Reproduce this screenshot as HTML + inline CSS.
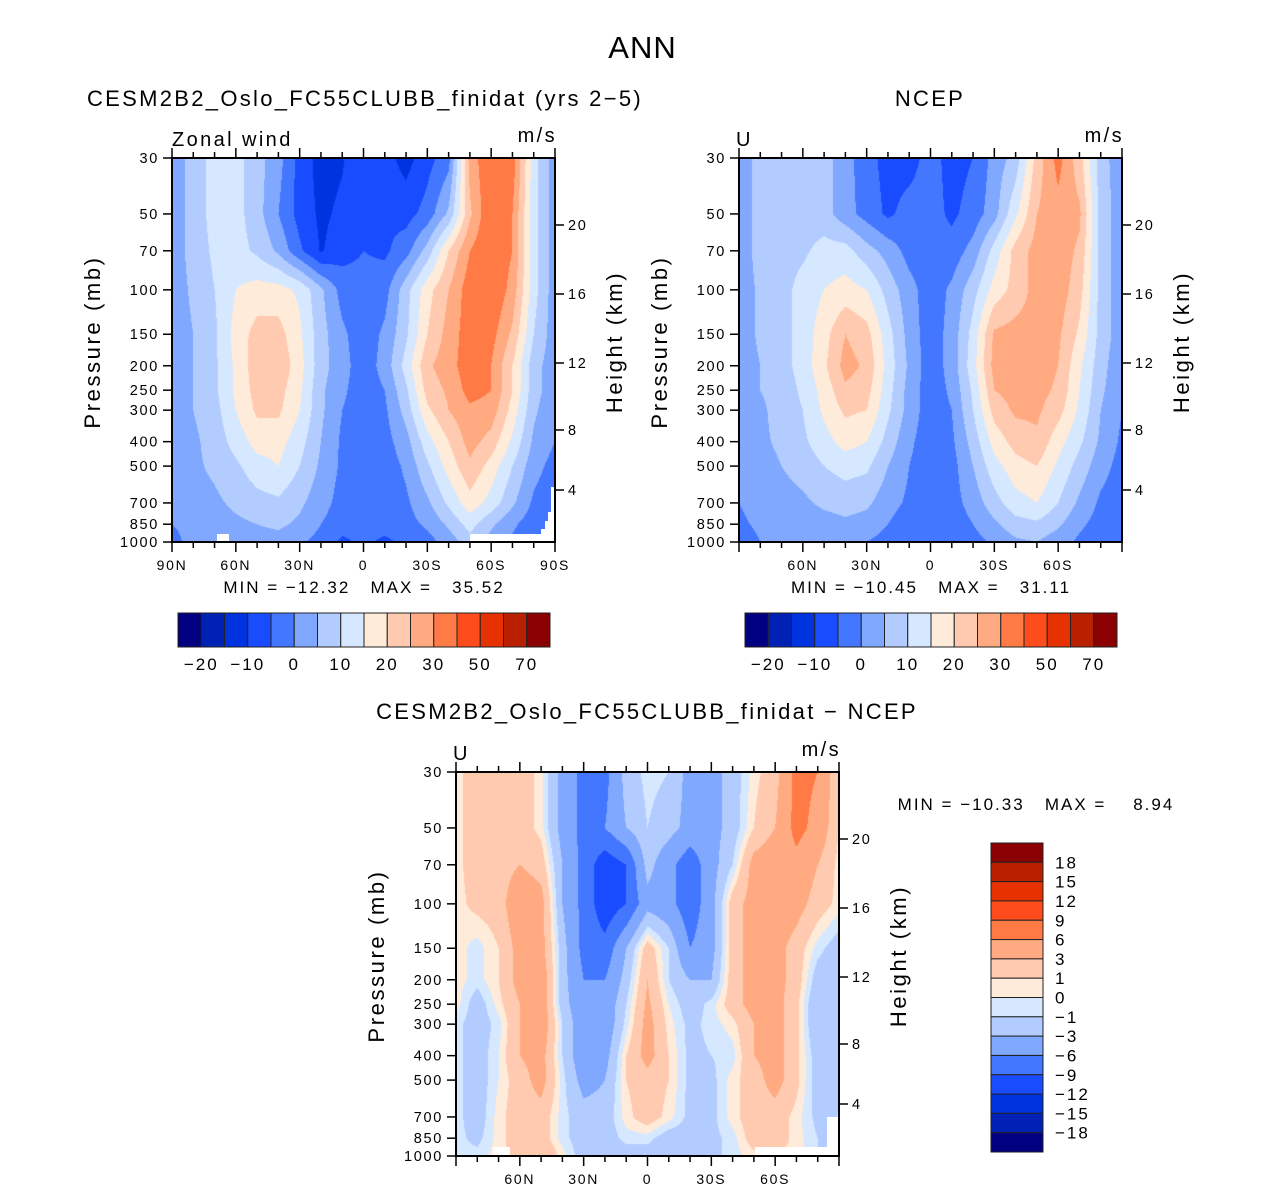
<!DOCTYPE html>
<html><head><meta charset="utf-8">
<style>
body{margin:0;background:#fff;width:1285px;height:1193px;overflow:hidden;position:relative;font-family:"Liberation Sans",sans-serif;}
canvas{position:absolute;}
.t{position:absolute;white-space:pre;color:#000;}
.miss{position:absolute;background:#fff;}
</style></head><body>
<div class="t" style="left:0;width:1285px;text-align:center;top:30px;font-size:31px;letter-spacing:1px;">ANN</div>
<div class="t" style="left:40px;width:650px;text-align:center;top:86px;font-size:22px;letter-spacing:2.3px;">CESM2B2_Oslo_FC55CLUBB_finidat (yrs 2−5)</div>
<div class="t" style="left:830px;width:200px;text-align:center;top:86px;font-size:22px;letter-spacing:2.3px;">NCEP</div>
<div class="t" style="left:297px;width:700px;text-align:center;top:699px;font-size:22px;letter-spacing:2.3px;">CESM2B2_Oslo_FC55CLUBB_finidat − NCEP</div>

<canvas id="c1" width="383" height="384" style="left:172px;top:158px"></canvas>
<canvas id="c2" width="383" height="384" style="left:739px;top:158px"></canvas>
<canvas id="c3" width="383" height="384" style="left:456px;top:772px"></canvas>

<div class="miss" style="left:217px;top:534px;width:12px;height:8px"></div>
<div class="miss" style="left:470px;top:534px;width:85px;height:8px"></div>
<div class="miss" style="left:551px;top:487px;width:4px;height:55px"></div>
<div class="miss" style="left:548px;top:512px;width:4px;height:30px"></div>
<div class="miss" style="left:545px;top:521px;width:4px;height:21px"></div>
<div class="miss" style="left:541px;top:529px;width:5px;height:13px"></div>
<div class="miss" style="left:493px;top:1147px;width:17px;height:9px"></div>
<div class="miss" style="left:755px;top:1147px;width:84px;height:9px"></div>
<div class="miss" style="left:827px;top:1117px;width:12px;height:39px"></div>

<svg id="ov" width="1285" height="1193" style="position:absolute;left:0;top:0"></svg>

<script>
const colors=["#000080","#0022b4","#0033e0","#1a4cff","#4477ff","#80a8ff","#b3ccff","#d6e8ff","#ffebd9","#ffcab0","#ffaa80","#ff7a44","#ff4c1c","#e63200","#b82000","#8b0000"];
const levelsU=[-20,-15,-10,-5,0,5,10,15,20,25,30,40,50,60,70];
const levelsDiff=[-18,-15,-12,-9,-6,-3,-1,0,1,3,6,9,12,15,18];
const cbLabelsU=["−20","−10","0","10","20","30","50","70"];
const cbLabelsDiff=["18","15","12","9","6","3","1","0","−1","−3","−6","−9","−12","−15","−18"];
const lats=[90,80,70,60,50,40,30,20,10,0,-10,-20,-30,-40,-50,-60,-70,-80,-90];
const plevs=[30,50,70,100,150,200,250,300,400,500,700,850,1000];
const pTickLabels=["30","50","70","100","150","200","250","300","400","500","700","850","1000"];
const heightTicks=[4,8,12,16,20];
const latTickLabelsFull=["90N","60N","30N","0","30S","60S","90S"];
const latTickLabelsInner=["","60N","30N","0","30S","60S",""];
const modelU=[
[2,7,12,12,7,2,-7,-12,-10.5,-6,-8,-12,-7,-2,27,35,33,12,2],
[2,7,12,12,7,0,-7,-11,-9,-6,-6,-7,-3,6,24,35,30,12,2],
[2,7,11,12,9,4,-4,-10.5,-7,-5,-6,-2,7,20,30,35,30,12,2],
[2,6,10,15,17,17,14,6,-2,-3,-2,8,18,25,33,35,28,12,2],
[2,5,9,17,22,22,16,7,1,-3,1,9,20,27,33,32,24,10,2],
[2,5,9,16,23,24,17,7,2,-3,2,12,24,28,33,30,20,7,2],
[2,5,9,16,22,22,16,6,1,-3,0,9,22,26,32,30,20,7,2],
[2,5,8,15,21,21,15,6,0,-3,-1,7,19,25,29,28,18,6,1],
[2,4,7,12,17,17,12,5,-1,-3,-2,3,13,20,27,23,14,4,0],
[1,4,6,9,13,15,10,4,-1,-3,-3,1,9,17,24,18,10,2,-2],
[1,3,4,6,8,9,6,2,-2,-3,-3,-1,4,11,18,13,6,-1,-4],
[0,2,3,4,5,6,4,0,-3,-4,-3,-2,1,6,12,6,1,-3,-6],
[-2,2,2,3,3,3,1,-2,-6,-4,-6,-4,-2,2,8,3,-1,-4,-8]];
const ncepU=[
[2,7,7,7,7,2,-3,-7,-7,-3,-7,-5,2,7,22,32,22,7,2],
[2,7,7,7,7,2,-2,-6,-3,-3,-6,-3,3,14,25,28,26,8,2],
[2,7,8,9,12,12,7,3,-2,-3,-3,2,12,22,27,28,24,8,2],
[2,6,8,12,15,17,15,8,2,-3,1,8,17,22,27,28,22,8,2],
[2,6,8,12,18,25,22,12,3,-3,2,12,26,27,27,26,19,8,2],
[2,5,8,12,19,27,24,13,4,-3,2,13,27,28,28,25,16,7,1],
[2,5,7,11,17,24,22,12,3,-3,1,11,25,27,27,24,15,6,1],
[2,4,7,10,16,21,20,11,3,-3,0,10,22,26,26,22,14,5,0],
[2,4,6,9,13,17,15,8,1,-3,-1,7,17,22,24,17,11,4,-1],
[1,3,5,7,10,12,11,5,0,-3,-2,5,13,18,20,14,8,2,-2],
[0,2,3,4,6,7,6,2,-1,-3,-2,2,8,13,15,10,4,-1,-3],
[-1,1,2,2,3,4,3,0,-3,-3,-3,0,4,8,9,6,1,-2,-4],
[-3,0,1,1,2,2,0,-2,-4,-3,-4,-2,1,4,5,2,-1,-3,-5]];
const diffU=[
[0.5,2,2,2,0.5,-4,-7,-7,-2,-0.5,-1,-4,-4,-2,0.5,2,7,6,1],
[0.5,2,2,2,0.5,-4,-7,-6,-3,-1,-2,-4,-4,-2,1,3,7,5,1],
[0.5,2,2,3,2,-3,-7,-11,-9,-2,-5,-8,-4,-1,4,5,5,3,0.5],
[0.5,1.5,2,5,4,-3,-7,-11,-9,-4,-5,-8,-4,2,4,5,4,2,0.5],
[0.5,-0.5,1,4,4,-2,-7,-8,-3,2,-1,-6,-4,2,4,4,2,-0.5,-2],
[0.5,-0.5,1,4,5,-2,-6,-6,-2,3,-1,-3,-3,2,4,4,2,-2,-2],
[0.5,-2,0.5,3,5,-2,-5,-5,-1,3.5,0,-2,-0.5,2,4,4,1.5,-3,-2],
[-0.5,-2,-0.5,3,5,-1,-5,-5,-0.5,4,0.5,-1.5,-0.5,0.5,3,4,1.5,-3,-2],
[-0.5,-2,0,3,4,-1,-5,-4,1,4,1,-1.5,-1,-0.5,3,4,1.5,-2,-1.5],
[-0.5,-2,0,2,4,-0.5,-4,-3,1,2,1,-1.5,-1.5,0.5,2,4,1.5,-2,-1],
[-0.5,-2,0.5,2,2,-0.5,-2,-2,0.5,2,0.5,-1.5,-1.5,0.5,2,2,0.5,-1.5,-1.5],
[-0.5,-1.5,0.5,2,2,-0.5,-2,-2,-0.5,-0.5,-2,-2,-1.5,-0.5,2,2,0.5,-1,-2],
[-0.5,-0.5,0.5,2,3,0.5,-2,-3,-2,-2,-2,-2,-1.5,-0.5,0.5,1,0.5,-1,-2]];

const LP0=Math.log10(30), LPR=Math.log10(1000)-LP0;
function yOfP(p,h){return (Math.log10(p)-LP0)/LPR*h;}
function xOfLat(lat,w){return (90-lat)/180*w;}
function hexRgb(h){return [parseInt(h.slice(1,3),16),parseInt(h.slice(3,5),16),parseInt(h.slice(5,7),16)];}
const rgb=colors.map(hexRgb);
const logP=plevs.map(p=>Math.log10(p));
function drawField(id,grid,levels){
  const cv=document.getElementById(id),ctx=cv.getContext('2d');
  const w=cv.width,h=cv.height,img=ctx.createImageData(w,h);
  for(let py=0;py<h;py++){
    const lp=LP0+(py+0.5)/h*LPR;
    let r=0;while(r<plevs.length-2&&logP[r+1]<lp)r++;
    const fy=Math.min(1,Math.max(0,(lp-logP[r])/(logP[r+1]-logP[r])));
    for(let px=0;px<w;px++){
      const lat=90-(px+0.5)/w*180;
      let c=0;while(c<lats.length-2&&lats[c+1]>lat)c++;
      const fx=Math.min(1,Math.max(0,(lats[c]-lat)/(lats[c]-lats[c+1])));
      const v=(grid[r][c]*(1-fx)+grid[r][c+1]*fx)*(1-fy)+(grid[r+1][c]*(1-fx)+grid[r+1][c+1]*fx)*fy;
      let k=0;while(k<levels.length&&v>=levels[k])k++;
      const col=rgb[k],i=(py*w+px)*4;
      img.data[i]=col[0];img.data[i+1]=col[1];img.data[i+2]=col[2];img.data[i+3]=255;
    }
  }
  ctx.putImageData(img,0,0);
}
drawField('c1',modelU,levelsU);
drawField('c2',ncepU,levelsU);
drawField('c3',diffU,levelsDiff);

const NS="http://www.w3.org/2000/svg",ov=document.getElementById('ov');
function mk(tag,attrs,parent){const e=document.createElementNS(NS,tag);for(const k in attrs)e.setAttribute(k,attrs[k]);(parent||ov).appendChild(e);return e;}
function txt(x,y,s,size,anchor,parent){const e=mk('text',{x:x,y:y,'font-size':size,'text-anchor':anchor||'middle','font-family':'Liberation Sans, sans-serif',fill:'#000','letter-spacing':(size*0.12).toFixed(1)},parent);e.textContent=s;return e;}
const hOffsets=[332,272,205,136,67];
function axes(P,latLabels,name){
  const g=mk('g',{});
  
  
  const frame=mk('rect',{x:P.x,y:P.y,width:P.w,height:P.h,fill:'none',stroke:'#000','stroke-width':2},g);
  
  
  plevs.forEach((p,i)=>{
    const y=P.y+yOfP(p,P.h);
    mk('line',{x1:P.x-9,x2:P.x,y1:y,y2:y,stroke:'#000','stroke-width':1.5},g);
    const t=txt(P.x-13,y+5,pTickLabels[i],14.5,'end',g);
    
    
  });
  for(let lat=90;lat>=-90;lat-=10){
    const x=P.x+xOfLat(lat,P.w),major=lat%30===0,L=major?10:6;
    mk('line',{x1:x,x2:x,y1:P.y,y2:P.y-L,stroke:'#000','stroke-width':1.5},g);
    mk('line',{x1:x,x2:x,y1:P.y+P.h,y2:P.y+P.h+L,stroke:'#000','stroke-width':1.5},g);
    if(major){const s=latLabels[(90-lat)/30];if(s){const t=txt(x,P.y+P.h+28,s,14,'middle',g);
      
      }}
  }
  heightTicks.forEach((z,i)=>{
    const y=P.y+hOffsets[i];
    mk('line',{x1:P.x+P.w,x2:P.x+P.w+9,y1:y,y2:y,stroke:'#000','stroke-width':1.5},g);
    const t=txt(P.x+P.w+13,y+5,String(z),14.5,'start',g);
    
    
  });
  const yl=txt(0,0,'Pressure (mb)',22,'middle',g);
  yl.setAttribute('transform','translate('+(P.x-72)+','+(P.y+P.h/2-8)+') rotate(-90)');
  
  
  const hl=txt(0,0,'Height (km)',22,'middle',g);
  hl.setAttribute('transform','translate('+(P.x+P.w+67)+','+(P.y+P.h/2-8)+') rotate(-90)');
  
  
}
const P1={x:172,y:158,w:383,h:384},P2={x:739,y:158,w:383,h:384},P3={x:456,y:772,w:383,h:384};
axes(P1,latTickLabelsFull,'model');
axes(P2,latTickLabelsInner,'ncep');
axes(P3,latTickLabelsInner,'diff');

function label(x,y,s,size,anchor,name){const t=txt(x,y,s,size,anchor);
  
  
  t.setAttribute('xml:space','preserve');t.style.whiteSpace='pre';}
label(172,146,'Zonal wind',20,'start','variable-label');
label(557,142,'m/s',20,'end','units-label');
label(736,146,'U',20,'start','variable-label');
label(1124,142,'m/s',20,'end','units-label');
label(453,760,'U',20,'start','variable-label');
label(841,756,'m/s',20,'end','units-label');
label(364,593,'MIN = −12.32   MAX =   35.52',17,'middle','model-min-max');
label(931,593,'MIN = −10.45   MAX =   31.11',17,'middle','ncep-min-max');
label(1036,810,'MIN = −10.33   MAX =    8.94',17,'middle','diff-min-max');

function hbar(x0,name){
  const bw=372/16;
  colors.forEach((c,k)=>{const r=mk('rect',{x:x0+k*bw,y:613,width:bw,height:34,fill:c,stroke:'#222','stroke-width':1});
    
    });
  cbLabelsU.forEach((s,i)=>{const t=txt(x0+(2*i+1)*bw,670,s,17,'middle');
    
    });
}
hbar(178,'model-colorbar');
hbar(745,'ncep-colorbar');
const bh=309/16;
colors.slice().reverse().forEach((c,k)=>{const r=mk('rect',{x:991,y:843+k*bh,width:52,height:bh,fill:c,stroke:'#222','stroke-width':1});
  
  });
cbLabelsDiff.forEach((s,i)=>{const t=txt(1055,843+(i+1)*bh+6,s,17,'start');
  
  });
</script>
</body></html>
